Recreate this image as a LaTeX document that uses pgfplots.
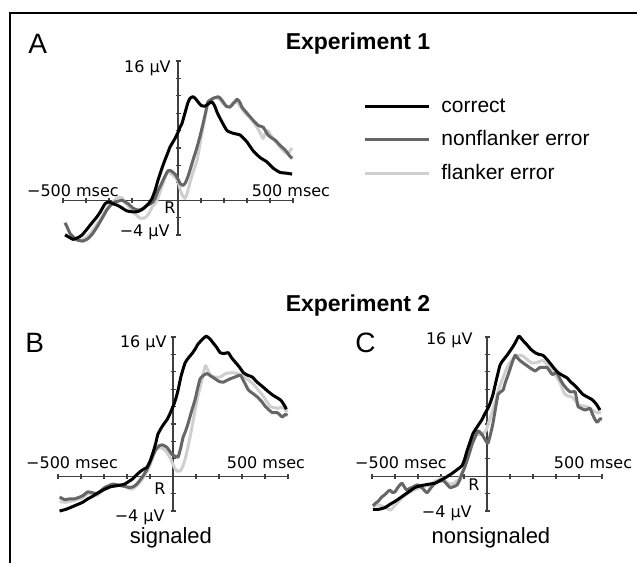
\documentclass[border=0pt]{standalone}
\usepackage{fontspec}
\setmainfont{Liberation Sans}
\newfontfamily\dejavu{DejaVu Sans}
\usepackage{pgfplots}
\pgfplotsset{compat=1.18}
\usepackage{pgfplotstable}

\definecolor{dgray}{HTML}{666666}
\definecolor{lgray}{HTML}{CFCFCF}
\definecolor{axgray}{HTML}{404040}

\newcommand{\lab}{\dejavu\fontsize{8}{9.6}\selectfont}

% ---- panel A (Experiment 1) ----
\pgfplotstableread{
t v
-491 -4.0
-470 -4.3
-456 -4.5
-435 -4.3
-417 -4.0
-395 -3.3
-374 -2.6
-355 -2.0
-339 -1.4
-317 -0.4
-300 -0.2
-283 -0.4
-262 -0.6
-243 -0.9
-225 -1.2
-209 -1.3
-190 -1.35
-174 -1.3
-158 -1.1
-143 -0.8
-128 -0.4
-113 0.2
-100 1.1
-87 2.3
-72 3.5
-57 4.6
-45 5.4
-35 6.1
-24 6.6
-13 7.1
0 7.8
9 8.4
17 8.8
30 10.0
43 11.2
52 11.7
65 11.9
75 11.7
87 11.3
100 10.9
117 10.8
133 11.1
148 11.3
160 10.8
170 10.1
191 9.0
213 8.0
239 7.7
255 7.6
270 7.5
285 7.1
300 6.7
326 5.7
357 4.9
387 4.4
413 3.7
443 3.2
474 3.1
496 3.0
}\Acorr
\pgfplotstableread{
t v
-491 -2.6
-480 -3.2
-470 -3.8
-452 -4.3
-435 -4.6
-415 -4.7
-396 -4.5
-383 -4.2
-370 -3.8
-355 -3.2
-339 -2.5
-324 -1.8
-309 -1.1
-290 -0.5
-274 -0.2
-258 -0.1
-243 0.0
-230 -0.2
-217 -0.4
-196 -0.9
-180 -1.1
-165 -1.1
-150 -0.9
-135 -0.6
-120 -0.4
-109 -0.2
-98 0.3
-87 1.1
-75 1.7
-65 2.3
-54 2.9
-43 3.4
-32 3.4
-22 3.2
-10 2.9
0 2.4
10 1.9
22 1.7
32 2.0
43 2.7
55 3.7
65 4.6
76 5.5
87 6.5
98 7.6
109 8.8
120 10.1
130 11.3
141 11.5
152 11.7
163 11.8
174 11.9
185 11.7
196 11.3
210 10.8
226 10.7
240 11.1
257 11.6
268 11.3
278 10.7
290 10.3
300 10.0
313 9.6
326 9.2
337 8.9
348 8.6
359 8.5
370 8.4
380 8.0
391 7.5
405 7.2
422 6.9
437 6.5
452 6.1
465 5.8
474 5.5
485 5.1
496 4.8
}\Anonf
\pgfplotstableread{
t v
-491 -3.9
-475 -4.2
-455 -4.5
-435 -4.6
-415 -4.5
-396 -4.2
-380 -3.8
-360 -3.0
-340 -2.3
-320 -1.4
-300 -0.6
-280 -0.1
-262 0.3
-245 0.3
-232 -0.2
-215 -0.7
-200 -1.2
-185 -1.6
-174 -1.9
-160 -2.1
-143 -2.0
-128 -1.6
-113 -0.8
-100 -0.4
-88 0.2
-75 1.2
-62 2.2
-50 3.0
-40 3.2
-28 3.0
-15 2.7
0 2.2
10 1.2
20 0.5
30 0.2
40 0.8
52 2.0
65 3.2
83 4.6
96 6.5
109 8.4
120 9.9
130 11.1
141 11.6
152 11.7
163 11.8
174 11.7
185 11.5
196 11.1
210 10.8
226 10.8
240 11.2
255 11.3
270 10.8
283 10.3
300 9.8
322 9.2
345 8.3
360 7.6
370 7.1
380 7.7
391 8.0
405 7.4
422 6.8
440 6.2
457 5.7
470 5.4
480 5.4
490 5.8
496 6.0
}\Aflk

% ---- panel B (signaled) ----
\pgfplotstableread{
t v
-493 -4.0
-465 -3.8
-437 -3.5
-415 -3.25
-393 -3.0
-370 -2.6
-349 -2.3
-325 -1.9
-297 -1.5
-270 -1.2
-245 -1.1
-225 -1.0
-210 -0.9
-192 -0.6
-175 -0.3
-160 0.1
-144 0.5
-128 0.8
-114 1.0
-100 1.7
-87 2.7
-76 3.7
-66 4.8
-52 5.5
-40 6.0
-26 6.5
-13 7.2
0 8.0
11 8.8
22 9.9
35 11.5
52 13.0
67 13.6
83 14.1
96 14.6
109 15.2
127 15.7
144 16.1
160 15.8
175 15.3
190 14.8
205 14.2
222 14.1
240 14.2
255 13.6
271 13.1
290 12.5
306 11.9
325 11.6
345 11.4
362 10.9
380 10.5
398 10.1
415 9.7
435 9.3
454 9.0
470 8.7
485 8.1
493 7.7
}\Bcorr
\pgfplotstableread{
t v
-493 -2.4
-470 -2.7
-450 -2.6
-428 -2.6
-406 -2.4
-390 -2.2
-371 -1.8
-350 -1.9
-332 -2.0
-315 -1.7
-297 -1.3
-280 -1.1
-262 -0.9
-243 -1.0
-223 -1.1
-205 -1.2
-188 -1.3
-172 -1.2
-157 -0.9
-145 -0.5
-131 0.0
-115 0.7
-100 1.6
-87 2.4
-74 3.1
-60 3.5
-48 3.6
-37 3.5
-26 3.3
-15 2.9
-4 2.5
9 2.3
22 2.2
33 3.2
44 4.5
55 5.2
66 6.1
81 7.5
96 8.8
107 10.1
118 11.2
133 11.6
148 11.8
165 11.5
183 11.2
200 10.9
218 10.8
233 11.0
249 11.2
270 11.4
293 11.6
310 10.8
328 9.9
348 9.5
367 9.1
385 8.6
402 8.0
418 7.6
432 7.3
454 7.3
466 7.0
476 6.8
487 7.1
498 7.0
}\Bnonf
\pgfplotstableread{
t v
-493 -2.9
-470 -3.0
-445 -2.9
-420 -2.7
-395 -2.5
-370 -2.0
-350 -2.0
-330 -2.2
-300 -1.5
-270 -1.1
-240 -1.0
-210 -1.2
-180 -1.5
-155 -1.0
-130 -0.2
-112 0.6
-100 1.3
-87 2.2
-75 3.0
-57 3.3
-40 3.1
-26 2.7
-12 2.1
-4 1.6
8 0.9
17 0.6
31 0.6
42 1.1
52 1.9
63 3.1
74 4.5
85 6.0
96 7.6
110 9.4
127 11.2
140 12.7
150 12.3
162 11.6
180 11.4
205 11.4
230 11.8
258 11.9
280 11.8
301 11.6
320 11.2
345 10.7
368 10.0
389 9.3
405 8.7
424 8.0
440 7.9
454 7.8
468 7.9
480 7.9
489 7.6
498 7.4
}\Bflk

% ---- panel C (nonsignaled) ----
\pgfplotstableread{
t v
-496 -3.8
-470 -3.8
-443 -3.6
-420 -3.2
-400 -2.9
-378 -2.5
-357 -2.1
-335 -1.7
-313 -1.3
-290 -1.1
-270 -1.0
-248 -0.9
-226 -0.8
-205 -0.5
-183 -0.2
-165 0.1
-148 0.4
-128 0.8
-109 1.2
-98 1.9
-87 2.9
-74 3.9
-61 4.9
-42 5.7
-22 6.5
-9 7.2
4 7.8
15 8.5
26 9.4
40 11.0
57 12.8
72 13.4
87 13.9
100 14.4
113 14.9
126 15.5
139 16.1
156 15.6
174 15.1
190 14.6
209 14.2
226 14.0
243 13.9
258 13.5
274 13.0
292 12.4
309 11.9
328 11.6
348 11.3
365 10.8
383 10.4
400 9.9
417 9.4
437 9.1
457 8.8
475 8.3
491 7.6
}\Ccorr
\pgfplotstableread{
t v
-496 -3.4
-485 -3.1
-474 -2.9
-458 -2.4
-443 -2.1
-432 -1.8
-422 -1.6
-410 -1.9
-400 -1.8
-385 -1.2
-370 -0.8
-358 -1.3
-348 -1.6
-337 -1.4
-326 -1.3
-312 -1.1
-300 -1.0
-280 -1.4
-261 -1.9
-243 -1.3
-226 -0.8
-208 -0.6
-191 -0.5
-175 -0.9
-161 -1.3
-145 -1.2
-130 -1.0
-118 -0.4
-109 0.3
-97 1.0
-87 1.8
-75 2.8
-65 3.7
-52 4.5
-39 5.2
-28 5.0
-17 4.6
-6 4.1
4 3.8
15 4.8
26 6.1
37 7.8
48 9.4
60 9.7
70 9.9
80 10.8
91 11.6
106 12.8
122 13.9
132 13.6
143 13.3
158 13.0
174 12.7
190 12.4
209 12.1
220 12.3
230 12.5
245 12.5
261 12.5
272 12.1
283 11.7
294 11.8
304 11.9
317 11.2
330 10.6
345 10.1
361 9.7
372 9.7
383 9.7
390 8.8
396 8.0
410 7.8
426 7.6
437 7.7
448 7.8
459 7.1
470 6.5
478 6.2
483 6.3
492 6.6
500 6.6
}\Cnonf
\pgfplotstableread{
t v
-496 -3.4
-470 -3.3
-440 -3.6
-420 -3.9
-395 -3.2
-370 -2.5
-340 -1.9
-310 -1.5
-280 -1.2
-250 -1.0
-220 -0.5
-195 -0.2
-170 -0.8
-150 -0.9
-125 -0.4
-105 0.5
-85 2.0
-65 3.6
-45 4.8
-25 4.8
-5 5.2
15 6.8
35 8.5
50 9.9
65 11.0
78 11.9
91 12.7
110 13.4
130 13.9
143 13.9
157 13.8
176 13.4
196 13.0
220 13.1
243 13.3
262 12.8
283 12.2
300 11.5
317 10.8
328 10.0
339 9.4
355 9.2
370 9.1
383 8.7
396 8.2
415 8.1
435 8.0
452 7.7
470 7.4
485 7.3
496 7.3
}\Cflk

\pgfplotsset{
  erp/.style={
    scale only axis, width=115pt, height=87pt,
    xmin=-500, xmax=500, ymin=-4, ymax=16,
    axis lines=center,
    axis line style={-, draw=axgray, line width=0.6pt},
    xtick={-500,-400,...,500}, ytick={-4,-2,...,16},
    xticklabels={}, yticklabels={},
    tick style={draw=axgray, line width=0.6pt},
    major tick length=2.5pt, tick align=center,
    clip=false, anchor=south west,
  },
  corr/.style={black, line width=1.5pt, line join=round, smooth, tension=0.3},
  nonf/.style={dgray, line width=1.5pt, line join=round, smooth, tension=0.3},
  flk/.style={lgray, line width=1.5pt, line join=round, smooth, tension=0.3},
}

\begin{document}
\begin{tikzpicture}[x=0.5pt, y=0.5pt]
\path[use as bounding box] (0,0) rectangle (637,-563);
\draw[line width=1pt] (637,-13) -- (10,-13) -- (10,-563);
\coordinate (pA) at (63,-235);
\coordinate (pB) at (58,-511);
\coordinate (pC) at (372,-511);

\node[anchor=base west, inner sep=0pt, font=\fontsize{14}{16}\selectfont] at (28,-53) {A};
\node[anchor=base west, inner sep=0pt, font=\fontsize{14}{16}\selectfont] at (25,-352) {B};
\node[anchor=base west, inner sep=0pt, font=\fontsize{14}{16}\selectfont] at (355,-352) {C};
\node[anchor=base, inner sep=0pt, font=\bfseries\fontsize{11.5}{13}\selectfont] at (358,-49) {Experiment 1};
\node[anchor=base, inner sep=0pt, font=\bfseries\fontsize{11.5}{13}\selectfont] at (358,-311) {Experiment 2};

% panel A
\begin{axis}[erp, at={(pA)},
  reverse legend, legend cell align=left,
  legend image code/.code={\draw[#1] (0pt,0pt) -- (32pt,0pt);},
  legend style={at={(axis description cs:1.3043,0.7989)}, anchor=north west,
    draw=none, fill=none, inner sep=0pt, row sep=6.75pt,
    font=\fontsize{10.5}{12}\selectfont,
    nodes={inner sep=0pt, text height=8pt, text depth=2pt},
    /tikz/every odd column/.append style={column sep=5.5pt}},
]
\addplot[flk] table[x=t, y=v] {\Aflk};
\addlegendentry{flanker error}
\addplot[nonf] table[x=t, y=v] {\Anonf};
\addlegendentry{nonflanker error}
\addplot[corr] table[x=t, y=v] {\Acorr};
\addlegendentry{correct}
\node[font=\lab, inner sep=0pt] at (axis cs:-457,1.15) {−500 msec};
\node[font=\lab, inner sep=0pt] at (axis cs:491,1.15) {500 msec};
\node[font=\lab, inner sep=0pt, anchor=east] at (axis cs:-30,15.2) {16 µV};
\node[font=\lab, inner sep=0pt, anchor=east] at (axis cs:-35,-3.7) {−4 µV};
\node[font=\lab, inner sep=0pt] at (axis cs:-35,-0.9) {R};
\end{axis}

% panel B
\begin{axis}[erp, at={(pB)}]
\addplot[flk] table[x=t, y=v] {\Bflk};
\addplot[nonf] table[x=t, y=v] {\Bnonf};
\addplot[corr] table[x=t, y=v] {\Bcorr};
\node[font=\lab, inner sep=0pt] at (axis cs:-439,1.5) {−500 msec};
\node[font=\lab, inner sep=0pt] at (axis cs:404,1.5) {500 msec};
\node[font=\lab, inner sep=0pt, anchor=east] at (axis cs:-26,15.3) {16 µV};
\node[font=\lab, inner sep=0pt, anchor=east] at (axis cs:-35,-4.7) {−4 µV};
\node[font=\lab, inner sep=0pt] at (axis cs:-57,-1.4) {R};
\node[font=\fontsize{11}{13}\selectfont, inner sep=0pt, anchor=base] at (axis cs:-9,-7.7) {signaled};
\end{axis}

% panel C
\begin{axis}[erp, at={(pC)}]
\addplot[flk] table[x=t, y=v] {\Cflk};
\addplot[nonf] table[x=t, y=v] {\Cnonf};
\addplot[corr] table[x=t, y=v] {\Ccorr};
\node[font=\lab, inner sep=0pt] at (axis cs:-374,1.5) {−500 msec};
\node[font=\lab, inner sep=0pt] at (axis cs:461,1.5) {500 msec};
\node[font=\lab, inner sep=0pt, anchor=east] at (axis cs:-61,15.6) {16 µV};
\node[font=\lab, inner sep=0pt, anchor=east] at (axis cs:-65,-4.25) {−4 µV};
\node[font=\lab, inner sep=0pt] at (axis cs:-57,-1.0) {R};
\node[font=\fontsize{11}{13}\selectfont, inner sep=0pt, anchor=base] at (axis cs:17,-7.7) {nonsignaled};
\end{axis}
\end{tikzpicture}
\end{document}
